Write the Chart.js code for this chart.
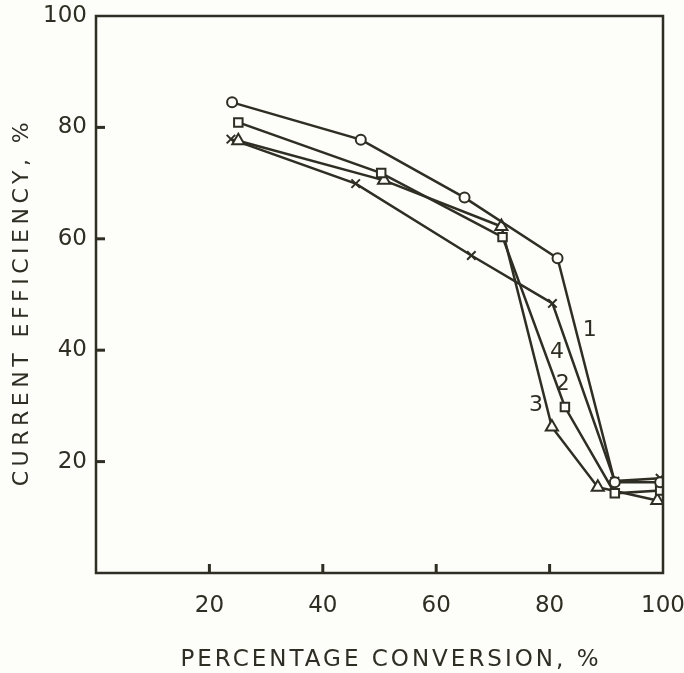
<!DOCTYPE html>
<html>
<head>
<meta charset="utf-8">
<script src="https://cdn.jsdelivr.net/npm/chart.js@4"></script>
<style>
  html, body { margin: 0; padding: 0; background: #fdfdf9; }
  #wrap { width: 684px; height: 673px; }
</style>
</head>
<body>
<div id="wrap"><canvas id="ce-chart" width="684" height="673"></canvas></div>
<script>
// conversion (%) and current efficiency (%) for the four runs
const conv1 = [24, 46.7, 65, 81.4, 91.5, 99.5];
const eff1 = [84.5, 77.8, 67.4, 56.5, 16.3, 16.3];
const conv2 = [25.1, 50.3, 71.7, 82.7, 91.5, 99.5];
const eff2 = [80.9, 71.8, 60.3, 29.8, 14.3, 14.8];
const conv3 = [25.1, 50.8, 71.5, 80.4, 88.5, 99];
const eff3 = [77.6, 70.5, 62.2, 26.2, 15.4, 13.0];
const conv4 = [23.8, 45.8, 66.2, 80.5, 91.5, 99.5];
const eff4 = [77.9, 69.9, 57.0, 48.4, 16.5, 17.0];

const tickValues = [20, 40, 60, 80, 100];

const xTitle = 'PERCENTAGE CONVERSION, %';
const yTitle = 'CURRENT EFFICIENCY, %';

// curve numbers written next to the lines
const curveLabels = [
    { text: '1', x: 87.1, y: 43.6 },
    { text: '4', x: 81.3, y: 39.7 },
    { text: '2', x: 82.3, y: 33.8 },
    { text: '3', x: 77.6, y: 30.2 }
];

const ink = '#2e2e24';
const fontFamily = '"DejaVu Sans", sans-serif';

function pts(xs, ys) {
    return xs.map((x, i) => ({ x: x, y: ys[i] }));
}

function series(xs, ys, style, radius) {
    return {
        data: pts(xs, ys),
        borderColor: ink,
        borderWidth: 2.5,
        backgroundColor: '#fdfdf9',
        pointStyle: style,
        pointRadius: radius,
        pointBorderWidth: 2,
        pointBorderColor: ink,
        pointBackgroundColor: '#fdfdf9',
        tension: 0,
        fill: false
    };
}

// no extra room for overhanging tick labels, layout padding decides it
function noOverhang(scale) {
    scale.paddingTop = 0;
    scale.paddingBottom = 0;
    scale.paddingLeft = 0;
    scale.paddingRight = 0;
}

// frame, inward ticks, spaced axis titles and curve numbers
const framePlugin = {
    id: 'frame',
    afterDraw(chart) {
        const ctx = chart.ctx;
        const a = chart.chartArea;
        const xs = chart.scales.x;
        const ys = chart.scales.y;
        ctx.save();
        ctx.strokeStyle = ink;
        ctx.lineWidth = 2.5;
        ctx.strokeRect(a.left, a.top, a.right - a.left, a.bottom - a.top);
        ctx.lineWidth = 3;
        [20, 40, 60, 80].forEach(v => {
            const px = xs.getPixelForValue(v);
            ctx.beginPath();
            ctx.moveTo(px, a.bottom);
            ctx.lineTo(px, a.bottom - 9);
            ctx.stroke();
            const py = ys.getPixelForValue(v);
            ctx.beginPath();
            ctx.moveTo(a.left, py);
            ctx.lineTo(a.left + 9, py);
            ctx.stroke();
        });

        ctx.fillStyle = ink;
        ctx.textAlign = 'center';
        ctx.textBaseline = 'middle';

        ctx.font = '22px ' + fontFamily;
        curveLabels.forEach(l => {
            ctx.fillText(l.text, xs.getPixelForValue(l.x), ys.getPixelForValue(l.y));
        });

        ctx.font = '23px ' + fontFamily;
        ctx.letterSpacing = '3px';
        ctx.fillText(xTitle, 391, 660);

        ctx.font = '22px ' + fontFamily;
        ctx.letterSpacing = '4.5px';
        ctx.translate(22, 302);
        ctx.rotate(-Math.PI / 2);
        ctx.fillText(yTitle, 0, 0);
        ctx.restore();
    }
};

new Chart(document.getElementById('ce-chart'), {
    type: 'line',
    data: {
        datasets: [
            series(conv1, eff1, 'circle', 5),
            series(conv2, eff2, 'rect', 6),
            series(conv3, eff3, 'triangle', 7),
            series(conv4, eff4, 'crossRot', 6)
        ]
    },
    options: {
        responsive: false,
        animation: false,
        layout: { padding: { top: 16, right: 21, left: 0, bottom: 0 } },
        plugins: {
            legend: { display: false },
            tooltip: { enabled: false }
        },
        scales: {
            x: {
                type: 'linear',
                min: 0,
                max: 100,
                afterFit(scale) { scale.height = 100; noOverhang(scale); },
                afterBuildTicks(scale) { scale.ticks = tickValues.map(v => ({ value: v })); },
                grid: { display: false, drawTicks: false },
                border: { display: false },
                ticks: {
                    color: ink,
                    padding: 19,
                    font: { family: fontFamily, size: 23 }
                }
            },
            y: {
                type: 'linear',
                min: 0,
                max: 100,
                afterFit(scale) { scale.width = 96; noOverhang(scale); },
                afterBuildTicks(scale) { scale.ticks = tickValues.map(v => ({ value: v })); },
                grid: { display: false, drawTicks: false },
                border: { display: false },
                ticks: {
                    color: ink,
                    padding: 9,
                    font: { family: fontFamily, size: 23 }
                }
            }
        }
    },
    plugins: [framePlugin]
});
</script>
</body>
</html>
